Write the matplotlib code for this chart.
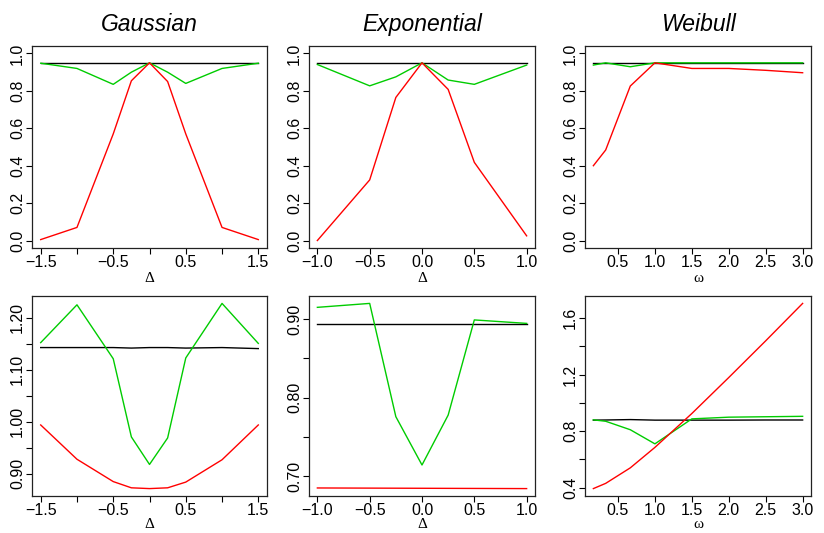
import matplotlib
matplotlib.use("Agg")
import matplotlib.pyplot as plt

plt.rcParams["font.family"] = ["Liberation Sans", "DejaVu Sans"]

# x grids
delta_g = [-1.5, -1.0, -0.5, -0.25, 0.0, 0.25, 0.5, 1.0, 1.5]
delta_e = [-1.0, -0.5, -0.25, 0.0, 0.25, 0.5, 1.0]
omega = [1/6, 1/3, 2/3, 1.0, 1.5, 2.0, 2.5, 3.0]

# top row: coverage
gau_cov_black = [0.95, 0.95, 0.95, 0.95, 0.95, 0.95, 0.95, 0.95, 0.95]
gau_cov_green = [0.948, 0.92, 0.835, 0.90, 0.95, 0.90, 0.84, 0.92, 0.948]
gau_cov_red = [0.005, 0.07, 0.57, 0.854, 0.95, 0.85, 0.57, 0.07, 0.005]

exp_cov_black = [0.95, 0.95, 0.95, 0.95, 0.95, 0.95, 0.95]
exp_cov_green = [0.941, 0.827, 0.875, 0.95, 0.858, 0.835, 0.938]
exp_cov_red = [0.0, 0.324, 0.765, 0.95, 0.808, 0.418, 0.025]

wei_cov_black = [0.948, 0.948, 0.948, 0.948, 0.948, 0.948, 0.948, 0.948]
wei_cov_green = [0.938, 0.95, 0.929, 0.95, 0.95, 0.95, 0.95, 0.95]
wei_cov_red = [0.40, 0.484, 0.826, 0.95, 0.92, 0.92, 0.91, 0.897]

# bottom row: interval length
gau_len_black = [1.143, 1.143, 1.143, 1.142, 1.143, 1.143, 1.142, 1.143, 1.141]
gau_len_green = [1.1525, 1.2253, 1.1215, 0.971, 0.918, 0.969, 1.123, 1.228, 1.151]
gau_len_red = [0.994, 0.928, 0.885, 0.873, 0.8715, 0.873, 0.884, 0.927, 0.994]

exp_len_black = [0.894, 0.894, 0.894, 0.894, 0.894, 0.894, 0.894]
exp_len_green = [0.915, 0.920, 0.776, 0.7146, 0.778, 0.899, 0.8946]
exp_len_red = [0.6854, 0.6852, 0.6851, 0.685, 0.6849, 0.6848, 0.6846]

wei_len_black = [0.878, 0.879, 0.882, 0.878, 0.878, 0.878, 0.879, 0.879]
wei_len_green = [0.88, 0.87, 0.81, 0.71, 0.887, 0.899, 0.902, 0.905]
wei_len_red = [0.393, 0.43, 0.54, 0.685, 0.925, 1.18, 1.44, 1.705]

M = "\u2212"
xt_g = [-1.5, -1.0, -0.5, 0.0, 0.5, 1.0, 1.5]
xl_g = [M + "1.5", "", M + "0.5", "", "0.5", "", "1.5"]
xt_e = [-1.0, -0.5, 0.0, 0.5, 1.0]
xl_e = [M + "1.0", M + "0.5", "0.0", "0.5", "1.0"]
xt_w = [0.5, 1.0, 1.5, 2.0, 2.5, 3.0]
xl_w = ["0.5", "1.0", "1.5", "2.0", "2.5", "3.0"]

yt_top = [0.0, 0.2, 0.4, 0.6, 0.8, 1.0]
yl_top = ["0.0", "0.2", "0.4", "0.6", "0.8", "1.0"]
yt_g = [0.90, 0.95, 1.00, 1.05, 1.10, 1.15, 1.20]
yl_g = ["0.90", "", "1.00", "", "1.10", "", "1.20"]
yt_e = [0.70, 0.75, 0.80, 0.85, 0.90]
yl_e = ["0.70", "", "0.80", "", "0.90"]
yt_w = [0.4, 0.6, 0.8, 1.0, 1.2, 1.4, 1.6]
yl_w = ["0.4", "", "0.8", "", "1.2", "", "1.6"]

W, H = 824, 533
fig = plt.figure(figsize=(W / 100, H / 100), dpi=100)

cols = [(32, 267), (309, 535), (585, 811)]
rows = [(46, 248), (296, 496)]
xlab_y = [278, 525]


def r_lim(vals):
    lo, hi = min(vals), max(vals)
    pad = 0.04 * (hi - lo)
    return lo - pad, hi + pad


def panel(r, c, x, series, xt, xl, yt, yl, xlab, ylim=None, title=None):
    x0, x1 = cols[c]
    y0, y1 = rows[r]
    ax = fig.add_axes([x0 / W, 1 - y1 / H, (x1 - x0) / W, (y1 - y0) / H])
    for ys, col in zip(series, ["black", "#00CC00", "#FF0000"]):
        ax.plot(x, ys, color=col, lw=1.0)
    ax.set_xlim(*r_lim(x))
    if ylim is None:
        allv = [v for s in series for v in s]
        ax.set_ylim(*r_lim(allv))
    else:
        ax.set_ylim(*r_lim(ylim))
    ax.set_xticks(xt)
    ax.set_xticklabels(xl, fontsize=11.5)
    ax.set_yticks(yt)
    ax.set_yticklabels(yl, fontsize=11.5, rotation=90, va="center")
    ax.tick_params(direction="out", length=4, width=0.8, pad=1)
    for s in ax.spines.values():
        s.set_linewidth(0.9)
        s.set_color("#222222")
    fig.text((x0 + x1) / 2 / W, 1 - xlab_y[r] / H, xlab, fontsize=11,
             family=["Liberation Serif", "DejaVu Serif"], ha="center", va="center")
    if title:
        ax.set_title(title, fontsize=16.5, style="italic", pad=11)
    return ax


panel(0, 0, delta_g, [gau_cov_black, gau_cov_green, gau_cov_red], xt_g, xl_g,
      yt_top, yl_top, "\u0394", ylim=[0, 1], title="Gaussian")
panel(0, 1, delta_e, [exp_cov_black, exp_cov_green, exp_cov_red], xt_e, xl_e,
      yt_top, yl_top, "\u0394", ylim=[0, 1], title="Exponential")
panel(0, 2, omega, [wei_cov_black, wei_cov_green, wei_cov_red], xt_w, xl_w,
      yt_top, yl_top, "\u03c9", ylim=[0, 1], title="Weibull")
panel(1, 0, delta_g, [gau_len_black, gau_len_green, gau_len_red], xt_g, xl_g,
      yt_g, yl_g, "\u0394")
panel(1, 1, delta_e, [exp_len_black, exp_len_green, exp_len_red], xt_e, xl_e,
      yt_e, yl_e, "\u0394")
panel(1, 2, omega, [wei_len_black, wei_len_green, wei_len_red], xt_w, xl_w,
      yt_w, yl_w, "\u03c9")

fig.savefig("out.png", dpi=100)
